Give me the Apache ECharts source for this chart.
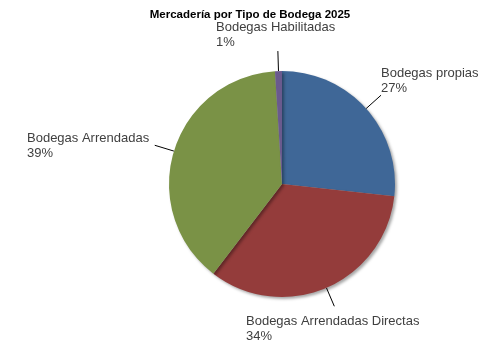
<!DOCTYPE html>
<html>
<head>
<meta charset="utf-8">
<script src="https://cdn.jsdelivr.net/npm/echarts@6/dist/echarts.min.js"></script>
<style>html,body{margin:0;padding:0;background:#fff}#c{width:500px;height:350px}</style>
</head>
<body>
<div id="c"></div>
<script>
var titleText = 'Mercadería por Tipo de Bodega 2025';
var categories = ['Bodegas propias', 'Bodegas Arrendadas Directas', 'Bodegas Arrendadas', 'Bodegas Habilitadas'];
var percents = [27, 34, 39, 1];
var colors = ['#3F6797', '#943C3B', '#7A9246', '#6A5A8E'];
// label anchor positions (layout only)
var labelPos = [[381, 66], [246, 314], [27, 131], [216, 20]];

var chart = echarts.init(document.getElementById('c'), null, {renderer: 'canvas'});
var data = categories.map(function (c, i) {
  return {name: c, value: percents[i], itemStyle: {color: colors[i]}};
});
chart.setOption({
  animation: false,
  title: {
    text: titleText, left: 'center', top: 4,
    textStyle: {fontFamily: 'Liberation Sans, Arial', fontSize: 11.5, fontWeight: 'bold', color: '#000'}
  },
  series: [{
    type: 'pie',
    center: [282, 184],
    radius: 113,
    startAngle: 90,
    clockwise: true,
    data: data,
    itemStyle: {borderWidth: 0, shadowColor: 'rgba(0,0,0,0.35)', shadowBlur: 3, shadowOffsetX: 2, shadowOffsetY: 2},
    label: {
      show: true, position: 'outside', overflow: 'none',
      formatter: '{b}\n{c}%',
      fontFamily: 'Liberation Sans, Arial', fontSize: 13, lineHeight: 15, color: '#404040'
    },
    labelLine: {show: true, length: 20, length2: 1, lineStyle: {color: '#000', width: 1}},
    labelLayout: function (p) {
      var pos = labelPos[p.dataIndex];
      var pts = p.labelLinePoints;
      var out = {x: pos[0], y: pos[1], align: 'left', verticalAlign: 'top', width: 200};
      if (pts && pts.length >= 2) {
        out.labelLinePoints = [pts[0], pts[1], pts[1]];
      }
      return out;
    },
    emphasis: {disabled: true}
  }]
});
</script>
</body>
</html>
